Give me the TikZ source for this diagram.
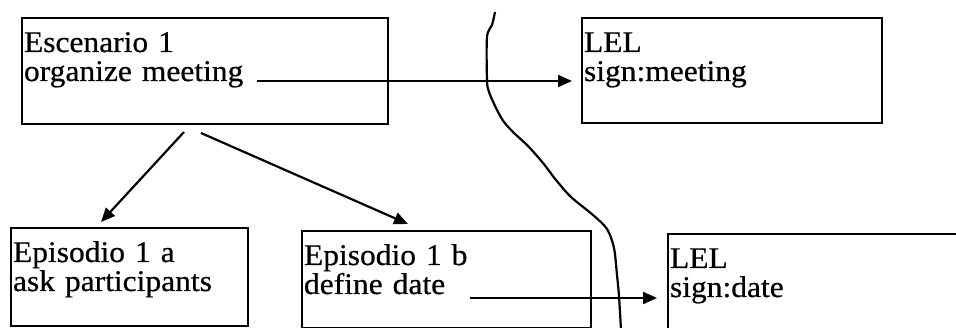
\documentclass[tikz,border=0pt]{standalone}
\usepackage{fontspec}
\setmainfont{Liberation Serif}[FakeStretch=1.05, FakeBold=0.6]
\usepackage{tikz}
\usetikzlibrary{arrows.meta, positioning}

\begin{document}
\begin{tikzpicture}[
    x=1pt, y=-1pt,
    box/.style={rectangle, draw, line width=2pt, inner xsep=2pt, inner ysep=0pt, text height=34pt, align=left, font=\fontsize{30}{29}\selectfont},
    line/.style={draw, -{Triangle[length=14pt, width=12pt]}, line width=2.2pt},
    boundary/.style={draw, line width=2.2pt}
  ]
    \useasboundingbox (0,0) rectangle (956,328);

    \node (scen) [box, text width=362pt, text depth=72pt, anchor=north west] at (21,17) {Escenario 1\\organize meeting};
    \node (lel1) [box, text width=296pt, text depth=71pt, right=192pt of scen.north east, anchor=north west] {LEL\\sign:meeting};
    \node (epa) [box, text width=233pt, text depth=64pt, below=102pt of scen.south west, anchor=north west, xshift=-11pt] {Episodio 1 a\\ask participants};
    \node (epb) [box, text width=285pt, text depth=63pt, right=52pt of epa.north east, anchor=north west, yshift=-3pt] {Episodio 1 b\\define date};
    \node (lel2) [box, text width=306pt, text depth=80pt, right=75pt of epb.north east, anchor=north west, yshift=-3pt] {LEL\\sign:date};

    \draw[boundary] plot[smooth, tension=0.5] coordinates {(495,12) (492,25) (487,37) (487,80) (489,92) (497,110) (504,122) (514,133) (528,146) (543,163) (556,180) (571,197) (593,215) (607,229) (614,248) (617,275) (619,296) (621,330)};

    \draw[line, shorten >=9pt] ([xshift=236pt, yshift=-10pt]scen.west) coordinate (m1) -- (m1 -| lel1.west);
    \draw[line, shorten >=10pt] ([xshift=169pt, yshift=-18.5pt]epb.west) coordinate (m2) -- (m2 -| lel2.west);
    \draw[line] ([xshift=-21pt, yshift=-7pt]scen.south) -- ([xshift=-28.5pt, yshift=5pt]epa.north);
    \draw[line] ([xshift=-4pt, yshift=-8pt]scen.south) -- ([xshift=-38.5pt, yshift=6pt]epb.north);
  \end{tikzpicture}
\end{document}
